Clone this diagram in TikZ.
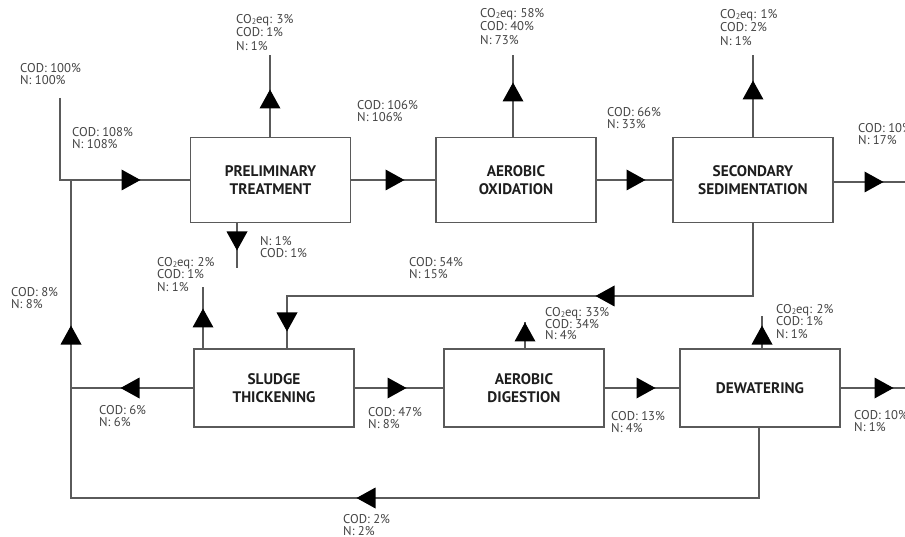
\documentclass[tikz,border=0pt]{standalone}
\usepackage{fontspec}
\setmainfont{PT Sans}
\definecolor{lncol}{HTML}{5A5A5A}
\definecolor{lbcol}{HTML}{444444}
\definecolor{ttcol}{HTML}{1E1E1E}
\begin{document}
\begin{tikzpicture}[x=1pt,y=-1pt,
  box/.style={draw=lncol, line width=1.1pt, minimum width=160pt, inner sep=0pt, align=center,
    font=\fontsize{15.3}{18}\selectfont\bfseries, text=ttcol},
  lab/.style={anchor=north west, inner sep=0pt, align=left,
    font=\fontsize{12.7}{11.8}\selectfont, text=lbcol},
  labwide/.style={lab, font=\fontsize{12.7}{13.6}\selectfont},
  labmid/.style={lab, font=\fontsize{12.7}{12.6}\selectfont},
  flow/.style={draw=lncol, line width=1.1pt},
  tri/.pic={\fill[black] (9.5pt,0) -- (-9.5pt,10.5pt) -- (-9.5pt,-10.5pt) -- cycle;}
]
\newcommand{\cotwo}{CO{\fontsize{8}{8}\selectfont\raisebox{-1.5pt}{2}}eq}
\useasboundingbox[fill=white] (0,0) rectangle (905,537);

% process boxes
\node[box, minimum height=85pt] (prelim) at (270.5,180) {PRELIMINARY\\TREATMENT};
\node[box, minimum height=85pt] (oxid) at (516,180) {AEROBIC\\OXIDATION};
\node[box, minimum height=85pt] (sec) at (753,180) {SECONDARY\\SEDIMENTATION};
\node[box, minimum height=78pt] (thick) at (274,388) {SLUDGE\\THICKENING};
\node[box, minimum height=78pt] (dig) at (524,388) {AEROBIC\\DIGESTION};
\node[box, minimum height=78pt] (dew) at (760,388) {DEWATERING};

% free ends and corners
\coordinate (inTop) at (60,98);
\coordinate (jTop) at (71,180);
\coordinate (outTop) at (905,182);
\coordinate (pTop) at (270,55);
\coordinate (pBot) at (237,268);
\coordinate (oTop) at (513,55);
\coordinate (sTop) at (753,55);
\coordinate (rc) at (287,296);
\coordinate (tTop) at (203,287);
\coordinate (jMid) at (71,388);
\coordinate (dTop) at (525,322);
\coordinate (wTop) at (762,316);
\coordinate (outBot) at (905,388);
\coordinate (bc) at (759,498);
\coordinate (jBot) at (71,498);

% connectors
\draw[flow] (inTop) |- (prelim.west);
\draw[flow] (prelim.east) -- (oxid.west);
\draw[flow] (oxid.east) -- (sec.west);
\draw[flow] (sec.east |- outTop) -- (outTop);
\draw[flow] (pTop |- prelim.north) -- (pTop);
\draw[flow] (pBot |- prelim.south) -- (pBot);
\draw[flow] (oTop |- oxid.north) -- (oTop);
\draw[flow] (sec.north) -- (sTop);
\draw[flow] (sec.south) |- (rc) -- (rc |- thick.north);
\draw[flow] (tTop |- thick.north) -- (tTop);
\draw[flow] (thick.west) -- (jMid);
\draw[flow] (thick.east) -- (dig.west);
\draw[flow] (dTop |- dig.north) -- (dTop);
\draw[flow] (dig.east) -- (dew.west);
\draw[flow] (wTop |- dew.north) -- (wTop);
\draw[flow] (dew.east) -- (outBot);
\draw[flow] (bc |- dew.south) -- (bc) -- (jBot) -- (jTop);

% flow direction triangles (y axis points down: rotate=90 points up)
\pic at (131,180) {tri};
\pic at (395,180) {tri};
\pic at (636,180) {tri};
\pic at (874,182) {tri};
\pic[rotate=90] at (270,99) {tri};
\pic[rotate=-90] at (237,241) {tri};
\pic[rotate=90] at (513,92) {tri};
\pic[rotate=90] at (753,90) {tri};
\pic[rotate=180] at (605,296) {tri};
\pic[rotate=-90] at (287,322) {tri};
\pic[rotate=90] at (203,318) {tri};
\pic[rotate=180] at (130,388) {tri};
\pic at (397,388) {tri};
\pic[rotate=90] at (525,332) {tri};
\pic at (646,388) {tri};
\pic[rotate=90] at (762,335) {tri};
\pic at (884,388) {tri};
\pic[rotate=180] at (366,498) {tri};
\pic[rotate=90] at (71,335) {tri};

% labels
\node[lab] (l1) at (20,63) {COD: 100\%\\N: 100\%};
\node[lab] (l2) at (72,127) {COD: 108\%\\N: 108\%};
\node[labwide] (l3) at (236,14) {\cotwo: 3\%\\COD: 1\%\\N: 1\%};
\node[lab] (l4) at (357,100) {COD: 106\%\\N: 106\%};
\node[labwide] (l5) at (480,8) {\cotwo: 58\%\\COD: 40\%\\N: 73\%};
\node[lab] (l6) at (607,107) {COD: 66\%\\N: 33\%};
\node[labwide] (l7) at (720,9) {\cotwo: 1\%\\COD: 2\%\\N: 1\%};
\node[lab] (l8) at (858,123) {COD: 10\%\\N: 17\%};
\node[lab] (l9) at (260,236) {N: 1\%\\COD: 1\%};
\node[labmid] (l10) at (157,257) {\cotwo: 2\%\\COD: 1\%\\N: 1\%};
\node[lab] (l11) at (409,257) {COD: 54\%\\N: 15\%};
\node[lab] (l12) at (11,287) {COD: 8\%\\N: 8\%};
\node[lab] (l13) at (545,307) {\cotwo: 33\%\\COD: 34\%\\N: 4\%};
\node[labmid] (l14) at (776,304) {\cotwo: 2\%\\COD: 1\%\\N: 1\%};
\node[lab] (l15) at (99,405) {COD: 6\%\\N: 6\%};
\node[lab] (l16) at (368,407) {COD: 47\%\\N: 8\%};
\node[lab] (l17) at (611,411) {COD: 13\%\\N: 4\%};
\node[lab] (l18) at (854,410) {COD: 10\%\\N: 1\%};
\node[lab] (l19) at (343,514) {COD: 2\%\\N: 2\%};
\end{tikzpicture}
\end{document}
